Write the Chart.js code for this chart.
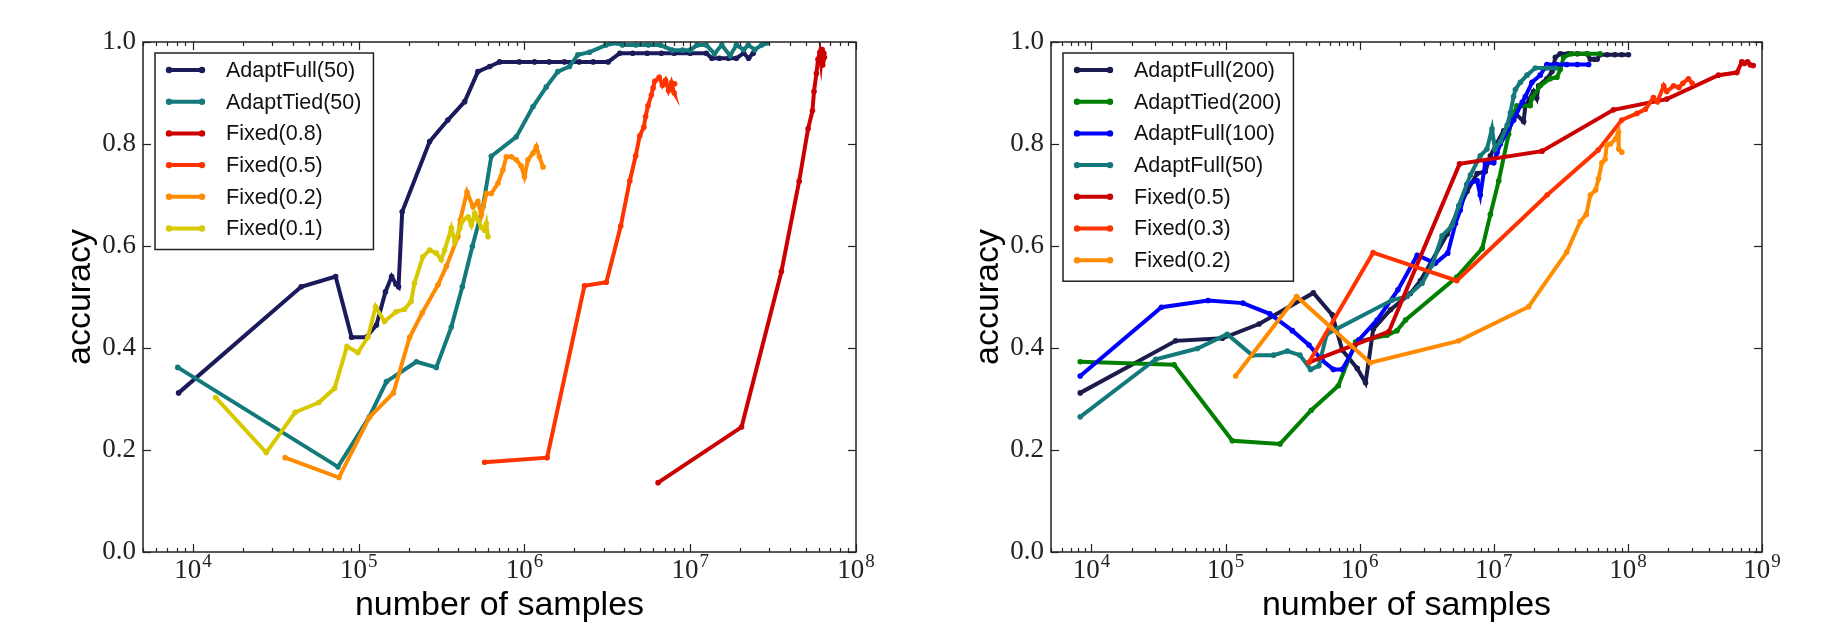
<!DOCTYPE html>
<html>
<head>
<meta charset="utf-8">
<title>accuracy vs number of samples</title>
<script src="https://cdn.jsdelivr.net/npm/chart.js@4.4.0/dist/chart.umd.min.js"></script>
<style>
  html, body { margin: 0; padding: 0; background: #fff; }
  #wrap { position: relative; width: 1823px; height: 626px; }
  .box { position: absolute; top: 0; height: 626px; }
  #leftBox { left: 0; width: 911px; }
  #rightBox { left: 911px; width: 912px; }
</style>
</head>
<body>
<div id="wrap">
  <div class="box" id="leftBox"><canvas id="leftChart" width="911" height="626"></canvas></div>
  <div class="box" id="rightBox"><canvas id="rightChart" width="912" height="626"></canvas></div>
</div>
<script>
// ---- data (samples, accuracy) ----

// left panel
const leftLabels = ['AdaptFull(50)', 'AdaptTied(50)', 'Fixed(0.8)', 'Fixed(0.5)', 'Fixed(0.2)', 'Fixed(0.1)'];

const lFull50_n = [8200, 45000, 72600, 90600, 111000, 128000, 145000, 158000, 168000, 174000, 183000, 268000, 345000, 436000, 524000, 617000, 708000, 930000, 1150000, 1410000, 1740000, 2140000, 2600000, 3200000, 3760000, 4500000, 5500000, 6700000, 8000000, 10000000, 12500000, 13500000, 15000000, 17000000, 19000000, 21000000, 22500000, 24000000];
const lFull50_acc = [0.312, 0.520, 0.540, 0.421, 0.421, 0.445, 0.510, 0.540, 0.525, 0.520, 0.667, 0.805, 0.847, 0.883, 0.942, 0.952, 0.961, 0.961, 0.961, 0.961, 0.961, 0.961, 0.961, 0.961, 0.978, 0.978, 0.978, 0.978, 0.978, 0.978, 0.978, 0.968, 0.968, 0.968, 0.968, 0.978, 0.968, 0.978];

const lTied50_n = [8100, 75000, 116000, 147000, 223000, 294000, 362000, 422000, 485000, 562000, 631000, 893000, 1125000, 1355000, 1590000, 1870000, 2100000, 2470000, 3100000, 3600000, 3900000, 4700000, 5600000, 6600000, 7800000, 9000000, 10000000, 11000000, 12500000, 14000000, 15500000, 17400000, 19000000, 21000000, 22400000, 24500000, 27000000, 29000000];
const lTied50_acc = [0.362, 0.167, 0.265, 0.334, 0.373, 0.362, 0.441, 0.520, 0.599, 0.677, 0.776, 0.814, 0.873, 0.912, 0.942, 0.952, 0.975, 0.980, 0.994, 0.998, 0.994, 0.994, 0.994, 0.994, 0.984, 0.984, 0.984, 0.994, 0.994, 0.977, 0.994, 0.973, 0.994, 0.985, 0.994, 0.985, 0.994, 0.998];

const lFix08_n = [6400000, 20400000, 35500000, 45400000, 51400000, 54600000, 55800000, 57700000, 59000000, 60500000, 61500000, 62500000, 63000000, 64000000, 63000000, 64500000];
const lFix08_acc = [0.136, 0.245, 0.550, 0.727, 0.830, 0.865, 0.903, 0.938, 0.966, 0.980, 0.960, 0.985, 0.965, 0.978, 0.955, 0.970];

const lFix05_n = [575000, 1370000, 2300000, 3120000, 3810000, 4320000, 4690000, 4960000, 5250000, 5380000, 5560000, 5830000, 5970000, 6110000, 6500000, 6800000, 7100000, 7400000, 7700000, 8000000, 7600000, 8050000];
const lFix05_acc = [0.176, 0.185, 0.522, 0.529, 0.639, 0.728, 0.777, 0.816, 0.833, 0.854, 0.875, 0.896, 0.910, 0.923, 0.931, 0.915, 0.925, 0.905, 0.920, 0.900, 0.912, 0.918];

const lFix02_n = [36000, 76000, 116000, 162000, 203000, 242000, 301000, 338000, 397000, 410000, 450000, 489000, 524000, 550000, 589000, 631000, 692000, 741000, 778000, 832000, 893000, 955000, 1000000, 1050000, 1125000, 1180000, 1230000, 1295000];
const lFix02_acc = [0.185, 0.146, 0.264, 0.312, 0.421, 0.469, 0.524, 0.560, 0.618, 0.651, 0.706, 0.677, 0.687, 0.661, 0.703, 0.703, 0.723, 0.749, 0.775, 0.775, 0.769, 0.757, 0.736, 0.769, 0.782, 0.795, 0.775, 0.755];

const lFix01_n = [13700, 27700, 41400, 57500, 71600, 85000, 98900, 113700, 126500, 143000, 168000, 189000, 207000, 217000, 244000, 268000, 294000, 315000, 330000, 362000, 380000, 407000, 426000, 457000, 479000, 501000, 525000, 550000, 575000, 589000, 603000];
const lFix01_acc = [0.303, 0.195, 0.274, 0.293, 0.321, 0.403, 0.391, 0.421, 0.481, 0.452, 0.471, 0.476, 0.491, 0.527, 0.579, 0.592, 0.586, 0.573, 0.592, 0.635, 0.608, 0.635, 0.651, 0.657, 0.641, 0.664, 0.651, 0.637, 0.631, 0.644, 0.618];

// right panel
const rightLabels = ['AdaptFull(200)', 'AdaptTied(200)', 'AdaptFull(100)', 'AdaptFull(50)', 'Fixed(0.5)', 'Fixed(0.3)', 'Fixed(0.2)'];

const rFull200_n = [8260, 42500, 94800, 178000, 452000, 625000, 742000, 960000, 1107000, 1263000, 1700000, 2390000, 2840000, 4490000, 6320000, 7520000, 8650000, 9440000, 10570000, 11860000, 14060000, 14500000, 16700000, 17200000, 19800000, 20900000, 21600000, 24900000, 27200000, 28800000, 31300000, 36000000, 42000000, 49500000, 52500000, 56000000, 59000000, 62000000, 70000000, 80000000, 90000000, 101000000];
const rFull200_acc = [0.312, 0.414, 0.419, 0.447, 0.508, 0.465, 0.396, 0.360, 0.332, 0.437, 0.475, 0.507, 0.532, 0.623, 0.707, 0.742, 0.746, 0.777, 0.802, 0.826, 0.847, 0.860, 0.844, 0.875, 0.903, 0.890, 0.914, 0.928, 0.942, 0.970, 0.977, 0.977, 0.977, 0.977, 0.966, 0.966, 0.966, 0.975, 0.975, 0.975, 0.975, 0.975];

const rTied200_n = [8260, 41400, 112500, 255000, 436000, 693000, 934000, 1600000, 1900000, 2200000, 5300000, 8200000, 9440000, 10900000, 12900000, 13700000, 14900000, 16200000, 18700000, 19300000, 22200000, 26300000, 29600000, 31300000, 33200000, 38000000, 50000000, 62000000];
const rTied200_acc = [0.373, 0.367, 0.218, 0.212, 0.278, 0.326, 0.412, 0.425, 0.434, 0.455, 0.539, 0.595, 0.662, 0.728, 0.819, 0.850, 0.875, 0.875, 0.875, 0.890, 0.914, 0.928, 0.931, 0.946, 0.970, 0.977, 0.977, 0.977];

const rFull100_n = [8260, 33300, 74100, 135000, 214000, 315000, 419000, 525000, 637000, 742000, 986000, 1350000, 1930000, 2690000, 3670000, 4540000, 5180000, 5620000, 6320000, 7520000, 7940000, 8650000, 10000000, 10570000, 11200000, 14060000, 16300000, 17200000, 19300000, 22200000, 24900000, 29500000, 35000000, 42000000, 51000000];
const rFull100_acc = [0.345, 0.480, 0.493, 0.488, 0.467, 0.434, 0.406, 0.376, 0.358, 0.358, 0.416, 0.455, 0.514, 0.582, 0.566, 0.586, 0.644, 0.670, 0.721, 0.728, 0.700, 0.763, 0.763, 0.783, 0.800, 0.847, 0.882, 0.893, 0.921, 0.935, 0.956, 0.956, 0.956, 0.956, 0.956];

const rFull50_n = [8260, 30200, 61800, 103000, 158000, 228000, 289000, 359000, 431000, 497000, 568000, 1750000, 2260000, 2920000, 3480000, 4120000, 4900000, 5480000, 6700000, 7940000, 8900000, 9700000, 10200000, 11200000, 12600000, 13300000, 14060000, 14500000, 15800000, 17700000, 20400000, 24900000, 28800000];
const rFull50_acc = [0.265, 0.378, 0.399, 0.427, 0.386, 0.386, 0.394, 0.386, 0.358, 0.365, 0.427, 0.494, 0.501, 0.527, 0.563, 0.620, 0.640, 0.679, 0.739, 0.777, 0.790, 0.830, 0.790, 0.805, 0.837, 0.861, 0.893, 0.907, 0.921, 0.935, 0.949, 0.949, 0.949];

const rFix05_n = [419000, 1650000, 5560000, 22900000, 78000000, 195000000, 473000000, 650000000, 707000000, 740000000, 780000000, 820000000, 860000000];
const rFix05_acc = [0.372, 0.432, 0.761, 0.786, 0.867, 0.888, 0.935, 0.940, 0.961, 0.958, 0.961, 0.955, 0.954];

const rFix03_n = [419000, 1260000, 5300000, 25000000, 60000000, 90000000, 117000000, 135000000, 155000000, 166000000, 185000000, 195000000, 219000000, 240000000, 257000000, 283000000, 302000000];
const rFix03_acc = [0.372, 0.587, 0.532, 0.700, 0.788, 0.847, 0.860, 0.868, 0.891, 0.883, 0.914, 0.903, 0.914, 0.911, 0.919, 0.928, 0.919];

const rFix02_n = [119000, 339000, 1200000, 5480000, 18200000, 35000000, 44200000, 49000000, 52500000, 57500000, 60400000, 64000000, 67600000, 69700000, 74000000, 81000000, 85100000, 85500000, 90100000];
const rFix02_acc = [0.345, 0.501, 0.371, 0.414, 0.481, 0.588, 0.648, 0.662, 0.700, 0.710, 0.732, 0.763, 0.770, 0.798, 0.800, 0.810, 0.823, 0.790, 0.784];

// axis ticks
const yTicks = [0.0, 0.2, 0.4, 0.6, 0.8, 1.0];
const leftDecades = [4, 5, 6, 7, 8];
const rightDecades = [4, 5, 6, 7, 8, 9];

// ---- style ----
const SERIF = "'Liberation Serif', 'DejaVu Serif', serif";
const SANS = "'Liberation Sans', Arial, sans-serif";

const leftColors = ['#1b1b5c', '#14797a', '#cc0000', '#ff3300', '#ff8c00', '#d8c800'];
const rightColors = ['#1b1b4e', '#007f00', '#0000ff', '#14797a', '#cc0000', '#ff3300', '#ff8c00'];

function buildDatasets(labels, colors, nList, accList) {
  return labels.map((label, i) => ({
    label: label,
    data: nList[i].map((n, k) => ({ x: n, y: accList[i][k] })),
    showLine: true,
    borderColor: colors[i],
    backgroundColor: colors[i],
    borderWidth: 4,
    pointRadius: 2.8,
    pointBorderWidth: 0,
    pointBackgroundColor: colors[i],
    tension: 0,
    order: labels.length - i   // later series on top, like matplotlib
  }));
}

// frame with inward ticks on all 4 sides, tick labels, titles, legend
const mplPlugin = {
  id: 'mplLook',
  afterDatasetsDraw(chart, args, opts) {
    const { ctx, chartArea: a, scales: { x, y } } = chart;
    ctx.save();
    ctx.strokeStyle = '#222';
    ctx.lineWidth = 1.5;
    ctx.strokeRect(a.left, a.top, a.right - a.left, a.bottom - a.top);

    const seg = (x1, y1, x2, y2) => { ctx.beginPath(); ctx.moveTo(x1, y1); ctx.lineTo(x2, y2); ctx.stroke(); };

    ctx.lineWidth = 1.2;
    yTicks.forEach(v => {
      const py = Math.round(y.getPixelForValue(v)) + 0.5;
      seg(a.left, py, a.left + 8, py);
      seg(a.right, py, a.right - 8, py);
    });
    const lo = Math.floor(Math.log10(x.min)), hi = Math.ceil(Math.log10(x.max));
    for (let e = lo; e <= hi; e++) {
      for (let m = 1; m < 10; m++) {
        const v = m * Math.pow(10, e);
        if (v < x.min || v > x.max) continue;
        const px = Math.round(x.getPixelForValue(v)) + 0.5;
        const len = m === 1 ? 8 : 4;
        seg(px, a.bottom, px, a.bottom - len);
        seg(px, a.top, px, a.top + len);
      }
    }

    // x tick labels 10^k
    ctx.fillStyle = '#222';
    ctx.textBaseline = 'alphabetic';
    ctx.textAlign = 'left';
    opts.decades.forEach(k => {
      const px = x.getPixelForValue(Math.pow(10, k));
      ctx.font = '27px ' + SERIF;
      const wb = ctx.measureText('10').width;
      ctx.font = '19px ' + SERIF;
      const we = ctx.measureText(String(k)).width;
      const x0 = px - (wb + we + 1) / 2;
      ctx.font = '27px ' + SERIF;
      ctx.fillText('10', x0, 578);
      ctx.font = '19px ' + SERIF;
      ctx.fillText(String(k), x0 + wb + 1, 567);
    });

    // axis titles
    ctx.fillStyle = '#000';
    ctx.font = '34px ' + SANS;
    ctx.textAlign = 'center';
    ctx.fillText('number of samples', (a.left + a.right) / 2, 615);
    ctx.save();
    ctx.translate(a.left - 53, (a.top + a.bottom) / 2);
    ctx.rotate(-Math.PI / 2);
    ctx.fillText('accuracy', 0, 0);
    ctx.restore();

    // legend box
    const ds = chart.data.datasets;
    ctx.font = '21.5px ' + SANS;
    let maxW = 0;
    ds.forEach(d => { maxW = Math.max(maxW, ctx.measureText(d.label).width); });
    const bx = a.left + 12, by = a.top + 11;
    const bw = 71 + maxW + 12;
    const bh = 38 + (ds.length - 1) * 31.7;
    ctx.fillStyle = '#fff';
    ctx.fillRect(bx, by, bw, bh);
    ctx.strokeStyle = '#222';
    ctx.lineWidth = 1.5;
    ctx.strokeRect(bx, by, bw, bh);
    ds.forEach((d, i) => {
      const ry = by + 17 + i * 31.7;
      ctx.strokeStyle = d.borderColor;
      ctx.lineWidth = 4;
      seg(bx + 14, ry, bx + 47, ry);
      ctx.fillStyle = d.borderColor;
      [bx + 14, bx + 47].forEach(cx => { ctx.beginPath(); ctx.arc(cx, ry, 3.2, 0, Math.PI * 2); ctx.fill(); });
      ctx.fillStyle = '#111';
      ctx.textAlign = 'left';
      ctx.textBaseline = 'middle';
      ctx.fillText(d.label, bx + 71, ry + 1);
    });
    ctx.restore();
  }
};

function makeChart(canvasId, datasets, xMax, yWidth, padRight, decades) {
  return new Chart(document.getElementById(canvasId), {
    type: 'scatter',
    data: { datasets: datasets },
    plugins: [mplPlugin],
    options: {
      responsive: false,
      animation: false,
      layout: { padding: { left: 0, top: 42, right: padRight, bottom: 0 } },
      plugins: {
        legend: { display: false },
        tooltip: { enabled: false },
        mplLook: { decades: decades }
      },
      scales: {
        x: {
          type: 'logarithmic',
          min: 5000,
          max: xMax,
          ticks: { display: false },
          grid: { display: false, drawTicks: false },
          border: { display: false },
          afterFit: s => { s.height = 74; }
        },
        y: {
          min: 0,
          max: 1,
          afterBuildTicks: s => { s.ticks = yTicks.map(v => ({ value: v })); },
          ticks: {
            padding: 7,
            color: '#222',
            font: { family: SERIF, size: 27 },
            callback: v => Number(v).toFixed(1)
          },
          grid: { display: false, drawTicks: false },
          border: { display: false },
          afterFit: s => { s.width = yWidth; }
        }
      }
    }
  });
}

makeChart('leftChart',
  buildDatasets(leftLabels, leftColors,
    [lFull50_n, lTied50_n, lFix08_n, lFix05_n, lFix02_n, lFix01_n],
    [lFull50_acc, lTied50_acc, lFix08_acc, lFix05_acc, lFix02_acc, lFix01_acc]),
  1e8, 143, 55, leftDecades);

makeChart('rightChart',
  buildDatasets(rightLabels, rightColors,
    [rFull200_n, rTied200_n, rFull100_n, rFull50_n, rFix05_n, rFix03_n, rFix02_n],
    [rFull200_acc, rTied200_acc, rFull100_acc, rFull50_acc, rFix05_acc, rFix03_acc, rFix02_acc]),
  1e9, 140, 61, rightDecades);
</script>
</body>
</html>
